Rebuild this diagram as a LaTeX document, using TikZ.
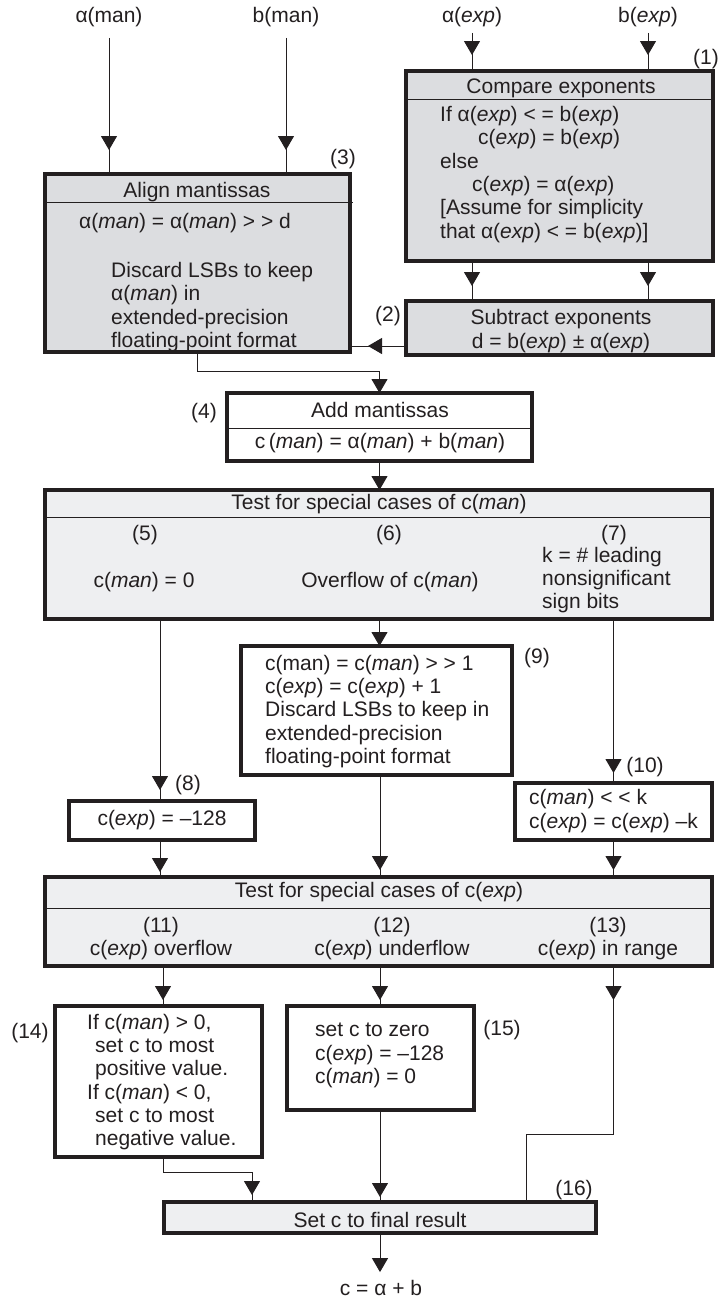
\documentclass[tikz,border=0pt]{standalone}
\usepackage{fontspec}
\setmainfont{Liberation Sans}
\usetikzlibrary{arrows.meta,decorations.markings}
\definecolor{ink}{RGB}{35,31,32}
\definecolor{boxgray}{RGB}{220,221,224}
\definecolor{boxlight}{RGB}{238,239,241}

\begin{document}
\begin{tikzpicture}[x=1pt,y=-1pt,
  box/.style={draw=ink, line width=3.5pt, inner sep=0pt, outer sep=0pt, anchor=north west},
  darkbox/.style={box, fill=boxgray},
  lightbox/.style={box, fill=boxlight},
  plainbox/.style={box, fill=white},
  divider/.style={draw=ink, line width=1pt},
  txt/.style={inner sep=0pt, text=ink, font=\fontsize{21}{23.3}\selectfont},
  blk/.style={txt, align=left, anchor=west},
  conn/.style={draw=ink, line width=1pt},
  tipend/.style={conn, -{Triangle[length=14pt,width=16pt]}},
  tipat/.style={conn, postaction={decorate},
    decoration={markings, mark=at position #1 with {\arrow{Triangle[length=14pt,width=16pt]}}}},
]
\useasboundingbox[fill=white] (0,0) rectangle (719,1299);

% helper coordinates for connector positions
\coordinate (ya) at (0,346);
\coordinate (xL) at (160,0);
\coordinate (xL2) at (163,0);
\coordinate (xM) at (380,0);
\coordinate (jr) at (526,1134);
\coordinate (jl) at (252,1172);

% ---------- boxes ----------
\node[darkbox, minimum width=307pt, minimum height=190pt] (cmp) at (406,71) {};
\node[darkbox, minimum width=307pt, minimum height=54pt] (sub) at (406,301) {};
\node[darkbox, minimum width=305pt, minimum height=178pt] (aln) at (45,174) {};
\node[plainbox, minimum width=305pt, minimum height=68pt] (add) at (227,393) {};
\node[lightbox, minimum width=667pt, minimum height=129pt] (tm) at (45,490) {};
\node[plainbox, minimum width=271pt, minimum height=129pt] (ovf) at (241,646) {};
\node[plainbox, minimum width=186pt, minimum height=39pt] (zer) at (69,801) {};
\node[plainbox, minimum width=197pt, minimum height=57pt] (nrm) at (515,783) {};
\node[lightbox, minimum width=667pt, minimum height=89pt] (te) at (45,877) {};
\node[plainbox, minimum width=207pt, minimum height=151pt] (sat) at (55,1006) {};
\node[plainbox, minimum width=187pt, minimum height=104pt] (clr) at (287,1006) {};
\node[lightbox, minimum width=432pt, minimum height=31pt] (fin) at (164,1202) {};

% header dividers
\draw[divider] (406,99.5) -- (713,99.5);
\draw[divider] (45,202) -- (353,202);
\draw[divider] (227,428) -- (532,428);
\draw[divider] (45,517) -- (712,517);
\draw[divider] (45,908) -- (712,908);

% ---------- inputs ----------
\node[txt, inner ysep=11pt] (am) at (109,17) {α(man)};
\node[txt, inner ysep=11pt] (bm) at (286,17) {b(man)};
\node[txt, inner ysep=6pt] (ae) at (472,17) {α(\textit{exp})};
\node[txt, inner ysep=6pt] (be) at (648,17) {b(\textit{exp})};

% ---------- box texts ----------
\node[txt] at (561,88.5) {Compare exponents};
\node[blk] at (440,174.5) {If α(\textit{exp}) < = b(\textit{exp})\\
  \hspace*{38pt}c(\textit{exp}) = b(\textit{exp})\\
  else\\
  \hspace*{32pt}c(\textit{exp}) = α(\textit{exp})\\
  {[}Assume for simplicity\\
  that α(\textit{exp}) < = b(\textit{exp})]};
\node[txt] at (706,59) {(1)};

\node[txt, align=center] at (561,331) {Subtract exponents\\d = b(\textit{exp}) ± α(\textit{exp})};
\node[txt] at (388,316) {(2)};

\node[txt] at (197,192) {Align mantissas};
\node[blk] at (79,223) {α(\textit{man}) = α(\textit{man}) > > d};
\node[blk] at (111,307) {Discard LSBs to keep\\α(\textit{man}) in\\extended-precision\\floating-point format};
\node[txt] at (343,159) {(3)};

\node[txt] at (380,410) {Add mantissas};
\node[txt] at (380,443) {c\,(\textit{man}) = α(\textit{man}) + b(\textit{man})};
\node[txt] at (204,413) {(4)};

\node[txt] at (379,504) {Test for special cases of c(\textit{man})};
\node[txt] at (145,535) {(5)};
\node[txt] at (144,582) {c(\textit{man}) = 0};
\node[txt] at (389,535) {(6)};
\node[txt] at (390,582) {Overflow of c(\textit{man})};
\node[txt] at (614,535) {(7)};
\node[blk] at (542,580) {k = \# leading\\nonsignificant\\sign bits};

\node[blk] at (265,711.5) {c(man) = c(\textit{man}) > > 1\\c(\textit{exp}) = c(\textit{exp}) + 1\\Discard LSBs to keep in\\extended-precision\\floating-point format};
\node[txt] at (537,658) {(9)};

\node[txt] at (162,820) {c(\textit{exp}) = –128};
\node[txt] at (188,785) {(8)};

\node[blk] at (529,811) {c(\textit{man}) < < k\\c(\textit{exp}) = c(\textit{exp}) –k};
\node[txt] at (645,767) {(10)};

\node[txt] at (379,892) {Test for special cases of c(\textit{exp})};
\node[txt, align=center] at (161,938.5) {(11)\\c(\textit{exp}) overflow};
\node[txt, align=center] at (392,938.5) {(12)\\c(\textit{exp}) underflow};
\node[txt, align=center] at (608,938.5) {(13)\\c(\textit{exp}) in range};

\node[blk] at (87,1082) {If c(\textit{man}) > 0,\\
  \hspace*{8pt}set c to most\\
  \hspace*{8pt}positive value.\\
  If c(\textit{man}) < 0,\\
  \hspace*{8pt}set c to most\\
  \hspace*{8pt}negative value.};
\node[txt] at (30,1033) {(14)};

\node[blk] at (315,1055.5) {set c to zero\\c(\textit{exp}) = –128\\c(\textit{man}) = 0};
\node[txt] at (502,1030) {(15)};

\node[txt] at (380,1220) {Set c to final result};
\node[txt] at (574,1190) {(16)};

\node[txt, inner ysep=8pt] (out) at (381,1288) {c = α + b};

% ---------- connectors ----------
\draw[tipat=-24pt] (am.south) -- (am.south |- aln.north);
\draw[tipat=-24pt] (bm.south) -- (bm.south |- aln.north);
\draw[tipat=-16pt] (ae.south) -- (ae.south |- cmp.north);
\draw[tipat=-16pt] (be.south) -- (be.south |- cmp.north);
\draw[tipat=-15pt] (ae.south |- cmp.south) -- (ae.south |- sub.north);
\draw[tipat=-15pt] (be.south |- cmp.south) -- (be.south |- sub.north);
\draw[tipat=-18pt] (sub.west |- ya) -- (aln.east |- ya);
\draw[tipend] (aln.south) -- ++(0,19) -| (add.north);
\draw[tipend] (add.south) -- (add.south |- tm.north);
\draw[tipend] (add.south |- tm.south) -- (add.south |- ovf.north);
\draw[tipat=-11pt] (xL |- tm.south) -- (xL |- zer.north);
\draw[tipat=-10pt] (nrm.north |- tm.south) -- (nrm.north);
\draw[tipat=-5pt] (xL |- zer.south) -- (xL |- te.north);
\draw[tipat=-7pt] (xM |- ovf.south) -- (xM |- te.north);
\draw[tipat=-7pt] (nrm.south) -- (nrm.south |- te.north);
\draw[tipat=-6pt] (xL2 |- te.south) -- (xL2 |- sat.north);
\draw[tipat=-6pt] (xM |- te.south) -- (xM |- clr.north);
\draw[tipat=34pt] (nrm.south |- te.south) |- (jr) -- (jr |- fin.north);
\draw[tipat=-7pt] (xL2 |- sat.south) |- (jl) -- (jl |- fin.north);
\draw[tipat=-5pt] (xM |- clr.south) -- (xM |- fin.north);
\draw[tipend] (xM |- fin.south) -- (out.north -| xM);
\end{tikzpicture}
\end{document}
